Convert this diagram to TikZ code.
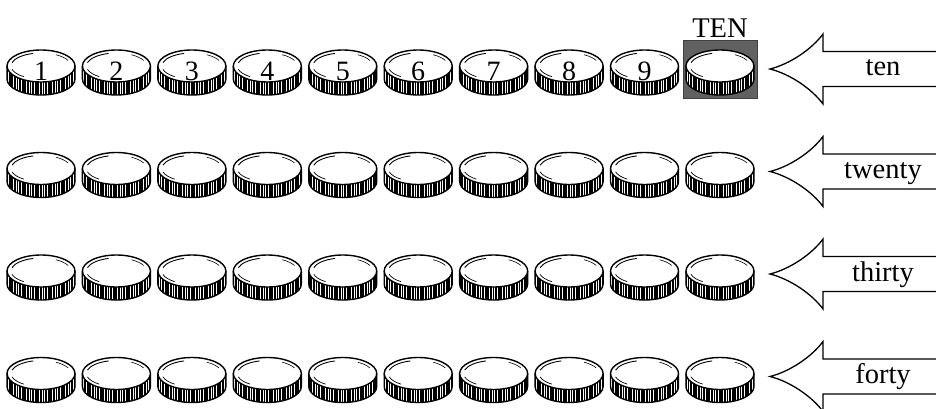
\documentclass[tikz,border=0pt]{standalone}
\usepackage{fontspec}
\setmainfont{Liberation Serif}
\usetikzlibrary{positioning, calc}

\tikzset{
  coin/.pic={
    % Rand
    \fill[white] (-34pt,0pt) -- (-34pt,-13pt) arc[start angle=180, end angle=360, x radius=34pt, y radius=16pt] -- (34pt,0pt) arc[start angle=0, end angle=-180, x radius=34pt, y radius=16pt] -- cycle;
    \begin{scope}
      \clip (-34pt,0pt) -- (-34pt,-13pt) arc[start angle=180, end angle=360, x radius=34pt, y radius=16pt] -- (34pt,0pt) arc[start angle=0, end angle=-180, x radius=34pt, y radius=16pt] -- cycle;
      \foreach \k in {-34,-31.4,...,34} \draw[line width=1.8pt] (\k pt,-40pt) -- (\k pt,5pt);
    \end{scope}
    \draw[coinline] (-34pt,0pt) -- (-34pt,-13pt) arc[start angle=180, end angle=360, x radius=34pt, y radius=16pt] -- (34pt,0pt);
    % Oberseite
    \draw[coinline, fill=white] (0pt,0pt) ellipse[x radius=34pt, y radius=16pt];
    \draw[line width=0.9pt] (0pt,0pt) ++(105:30pt and 13pt) arc[start angle=105, end angle=165, x radius=30pt, y radius=13pt];
    \draw[line width=0.6pt] (0pt,0pt) ++(25:30pt and 13pt) arc[start angle=25, end angle=60, x radius=30pt, y radius=13pt];
    \draw[line width=0.7pt] (0pt,0pt) ++(195:30pt and 13pt) arc[start angle=195, end angle=235, x radius=30pt, y radius=13pt];
  }
}

\begin{document}
\begin{tikzpicture}[x=1pt, y=-1pt,
    coinline/.style={line width=1.4pt},
    arrowline/.style={line width=1.3pt, line join=miter},
    lbl/.style={font=\fontsize{28.5}{32}\selectfont},
    digit/.style={font=\fontsize{28}{32}\selectfont, inner sep=0pt},
    tenbox/.style={fill=black!62, draw=black!75, minimum width=74pt, minimum height=58pt, inner sep=0pt}
  ]
  \useasboundingbox (0,0) rectangle (936,409);

  % Kasten fuer die zehnte Muenze
  \node[tenbox] (tenbox) at (720,69) {};
  \node[lbl, above=0pt of tenbox, inner sep=2pt] (tenlabel) {TEN};

  % Muenzreihen und Pfeile
  \foreach \r/\txt in {0/ten, 1/twenty, 2/thirty, 3/forty} {
    \pgfmathsetmacro\cy{66+102.5*\r}
    \foreach \i in {1,...,10}
      \pic (c\r-\i) at ({41+75.44*(\i-1)},\cy) {coin};
    \coordinate (tip\r) at (770,\cy+3);
    \begin{scope}[shift={(tip\r)}]
      \draw[arrowline, fill=white] (170,-17.5) -- (53,-17.5) -- (53,-35)
        .. controls (42,-20) and (20,-5) .. (0,0)
        .. controls (20,5) and (42,20) .. (53,35) -- (53,17.5) -- (170,17.5);
    \end{scope}
    \node[lbl, anchor=base] (lab\r) at (883,\cy+10) {\txt};
  }

  % Ziffern
  \foreach \i in {1,...,9}
    \node[digit] (d\i) at ({41+75.44*(\i-1)},71) {\i};

\end{tikzpicture}
\end{document}
